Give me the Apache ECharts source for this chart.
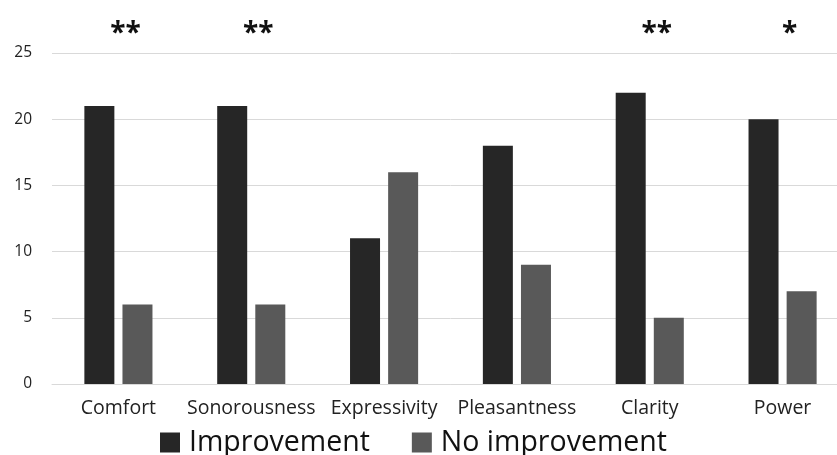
<!DOCTYPE html>
<html>
<head>
<meta charset="utf-8">
<script src="https://cdn.jsdelivr.net/npm/echarts@6/dist/echarts.min.js"></script>
<style>html,body{margin:0;padding:0;background:#fff;overflow:hidden}#bar{width:849px;height:455px}</style>
</head>
<body>
<div id="bar"></div>
<script>
// data
var categories = ['Comfort', 'Sonorousness', 'Expressivity', 'Pleasantness', 'Clarity', 'Power'];
var improvement = [21, 21, 11, 18, 22, 20];
var noImprovement = [6, 6, 16, 9, 5, 7];
var stars = ['**', '**', '', '', '**', '*'];
var yTicks = [0, 5, 10, 15, 20, 25];

// the original figure is cropped on the right, so the chart is a bit wider than the window
var myChart = echarts.init(document.getElementById('bar'));
var font = '"Open Sans", "Noto Sans", sans-serif';

var barOption = {
    animation: false,
    textStyle: { fontFamily: font },
    legend: {
        data: ['Improvement', 'No improvement'],
        top: 423,
        left: 155,
        icon: 'rect',
        itemWidth: 20,
        itemHeight: 20,
        itemGap: 42,
        textStyle: { fontSize: 28.5, color: '#111', fontFamily: font, padding: [0, 0, 0, 4] }
    },
    grid: { left: 52, top: 53, right: 0, height: 331, containLabel: false },
    xAxis: [
        {
            type: 'category',
            data: categories,
            axisTick: { show: false },
            axisLine: { lineStyle: { color: '#d9d9d9', width: 1 } },
            axisLabel: { fontSize: 19.5, color: '#222', margin: 14, fontFamily: font, interval: 0 }
        },
        {
            // significance markers above the bars
            type: 'category',
            position: 'top',
            data: stars,
            axisTick: { show: false },
            axisLine: { show: false },
            axisLabel: { fontSize: 28, color: '#111', margin: 5, fontWeight: 'bold', interval: 0, fontFamily: font, padding: [0, 0, 0, 14] }
        }
    ],
    yAxis: {
        type: 'value',
        min: yTicks[0],
        max: yTicks[yTicks.length - 1],
        interval: 5,
        axisLine: { show: false },
        axisTick: { show: false },
        splitLine: { lineStyle: { color: '#d9d9d9', width: 1 } },
        axisLabel: { fontSize: 15.5, color: '#222', margin: 20, fontFamily: font }
    },
    series: [
        {
            name: 'Improvement',
            type: 'bar',
            data: improvement,
            barWidth: 30,
            barGap: '27%',
            itemStyle: { color: '#262626' }
        },
        {
            name: 'No improvement',
            type: 'bar',
            data: noImprovement,
            barWidth: 30,
            itemStyle: { color: '#595959' }
        }
    ]
};
myChart.setOption(barOption);
</script>
</body>
</html>
